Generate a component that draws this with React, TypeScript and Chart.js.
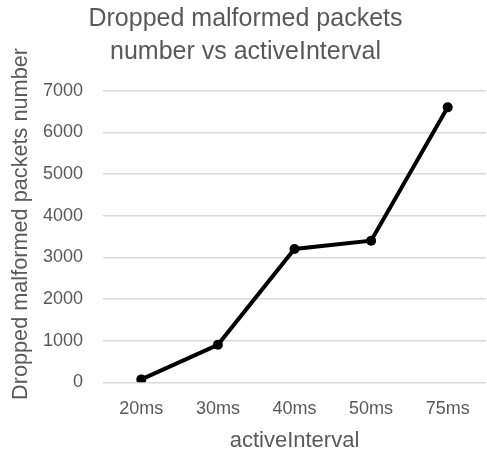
import React, { useEffect, useRef } from "react";
import { Chart, registerables } from "chart.js";

Chart.register(...registerables);

// Measured data: dropped malformed packets for each activeInterval setting
const intervals = ["20ms", "30ms", "40ms", "50ms", "75ms"];
const droppedPackets = [70, 900, 3200, 3400, 6600];
const titleLines = ["Dropped malformed packets", "number vs activeInterval"];
const xAxisTitle = "activeInterval";
const yAxisTitle = "Dropped malformed packets number";

const FONT = "'Liberation Sans', Arial, sans-serif";
const TEXT = "#595959";

// Draws the vertical y-axis title, centred a little higher than the plot area
const yTitlePlugin = {
  id: "yTitle",
  afterDraw(chart: any) {
    const ctx = chart.ctx;
    ctx.save();
    ctx.translate(21, 224);
    ctx.rotate(-Math.PI / 2);
    ctx.font = `21.7px ${FONT}`;
    ctx.fillStyle = TEXT;
    ctx.textAlign = "center";
    ctx.textBaseline = "middle";
    ctx.fillText(yAxisTitle, 0, 0);
    ctx.restore();
  },
};

export default function App() {
  const canvasRef = useRef<HTMLCanvasElement | null>(null);

  useEffect(() => {
    document.body.style.margin = "0";
    document.body.style.overflow = "hidden";
    const canvas = canvasRef.current;
    if (!canvas) return;
    const chart = new Chart(canvas, {
      type: "line",
      data: {
        labels: intervals,
        datasets: [
          {
            data: droppedPackets,
            borderColor: "#000000",
            backgroundColor: "#000000",
            borderWidth: 4,
            pointRadius: 5,
            pointBackgroundColor: "#000000",
            pointBorderColor: "#000000",
            pointBorderWidth: 0,
            tension: 0,
          },
        ],
      },
      options: {
        responsive: false,
        animation: false,
        devicePixelRatio: 1,
        layout: { padding: { left: 0, right: 0, top: 0, bottom: 0 } },
        plugins: {
          legend: { display: false },
          tooltip: { enabled: false },
          title: {
            display: true,
            text: titleLines,
            color: TEXT,
            font: { family: FONT, size: 25, weight: "normal", lineHeight: 1.32 },
            padding: { top: 3, bottom: 21.7 },
          },
        },
        scales: {
          x: {
            type: "category",
            offset: true,
            grid: { display: false, drawTicks: false },
            border: { display: false },
            ticks: {
              color: TEXT,
              font: { family: FONT, size: 18 },
              padding: 16,
              maxRotation: 0,
            },
            title: {
              display: true,
              text: xAxisTitle,
              color: TEXT,
              font: { family: FONT, size: 22 },
              padding: { top: 0, bottom: 0 },
            },
            afterFit: (scale: any) => {
              scale.height = 71.7;
            },
          },
          y: {
            min: 0,
            max: 7000,
            grid: { color: "#d9d9d9", lineWidth: 1.5, drawTicks: false },
            border: { display: false },
            ticks: {
              stepSize: 1000,
              color: TEXT,
              font: { family: FONT, size: 18 },
              padding: 20,
              callback: (value: any) => String(value),
            },
            title: { display: false },
            afterFit: (scale: any) => {
              scale.width = 103;
            },
          },
        },
      },
      plugins: [yTitlePlugin],
    });
    return () => chart.destroy();
  }, []);

  return (
    <div style={{ position: "absolute", left: 0, top: 0, width: 487, height: 454, overflow: "hidden", background: "#ffffff" }}>
      <canvas ref={canvasRef} width={491} height={454} style={{ display: "block" }} />
    </div>
  );
}
